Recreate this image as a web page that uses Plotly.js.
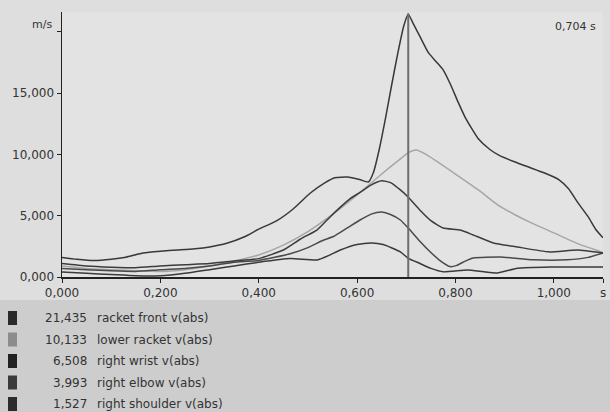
<!DOCTYPE html>
<html>
<head>
<meta charset="utf-8">
<script src="https://cdn.plot.ly/plotly-3.0.1.min.js"></script>
<style>html,body{margin:0;padding:0;background:#dedede;}#chart{width:610px;height:412px;}</style>
</head>
<body>
<div id="chart"></div>
<script>
// ---- data (time in s, velocity in m/s) ----
const seriesNames = ["racket front v(abs)", "lower racket v(abs)", "right wrist v(abs)", "right elbow v(abs)", "right shoulder v(abs)"];
const legendValues = ["21,435", "10,133", "6,508", "3,993", "1,527"];
const cursorTime = 0.704;
const cursorLabel = "0,704 s";

const racketFrontT = [0.000,0.030,0.065,0.100,0.130,0.165,0.200,0.235,0.270,0.300,0.335,0.370,0.400,0.437,0.470,0.505,0.535,0.555,0.580,0.605,0.623,0.633,0.645,0.658,0.670,0.683,0.695,0.704,0.715,0.728,0.745,0.760,0.775,0.790,0.805,0.820,0.846,0.870,0.890,0.920,0.950,0.980,1.010,1.030,1.050,1.070,1.085,1.100];
const racketFrontV = [1600,1450,1350,1450,1620,1950,2100,2200,2300,2450,2750,3260,3900,4600,5550,6850,7700,8100,8150,7950,7750,8500,10400,13000,15600,18300,20500,21435,20600,19600,18300,17600,16900,15700,14300,13000,11300,10400,9900,9400,8950,8500,7950,7200,6000,4900,3900,3200];

const lowerRacketT = [0.000,0.050,0.100,0.150,0.200,0.250,0.300,0.350,0.400,0.450,0.500,0.550,0.600,0.650,0.690,0.704,0.720,0.740,0.800,0.850,0.885,0.920,0.950,1.000,1.050,1.100];
const lowerRacketV = [900,700,600,500,450,600,900,1300,1800,2600,3700,5100,6700,8400,9700,10133,10350,10000,8400,7000,5900,5100,4500,3600,2700,2000];

const rightWristT = [0.000,0.050,0.100,0.150,0.200,0.250,0.300,0.350,0.400,0.450,0.485,0.519,0.545,0.566,0.586,0.606,0.628,0.650,0.668,0.688,0.704,0.728,0.750,0.775,0.810,0.836,0.877,0.926,0.990,1.048,1.100];
const rightWristV = [1100,900,800,750,900,1000,1100,1300,1500,2200,3100,3850,4900,5700,6400,6900,7500,7850,7700,7100,6508,5450,4600,4000,3830,3430,2780,2450,2050,2200,1960];

const rightElbowT = [0.000,0.050,0.100,0.150,0.200,0.250,0.300,0.350,0.400,0.464,0.500,0.531,0.552,0.580,0.606,0.630,0.650,0.668,0.688,0.704,0.728,0.750,0.770,0.789,0.803,0.820,0.836,0.891,0.958,1.027,1.070,1.100];
const rightElbowV = [700,600,500,450,600,700,900,1200,1350,1900,2400,3000,3300,4000,4650,5150,5300,5100,4650,3993,2900,2000,1300,850,950,1300,1550,1630,1400,1400,1600,1960];

const rightShoulderT = [0.000,0.050,0.100,0.150,0.200,0.250,0.300,0.350,0.400,0.464,0.519,0.545,0.566,0.600,0.630,0.653,0.688,0.704,0.728,0.750,0.775,0.824,0.855,0.885,0.926,0.993,1.050,1.100];
const rightShoulderV = [400,300,200,100,100,300,600,900,1200,1500,1390,1800,2200,2650,2780,2650,2050,1527,1100,700,420,570,450,330,720,820,820,820];

const yTickVals = [0, 5000, 10000, 15000, 20000];
const yTickText = ["0,000", "5,000", "10,000", "15,000", ""];
const xTickVals = [0, 0.2, 0.4, 0.6, 0.8, 1.0, 1.1];
const xTickText = ["0,000", "0,200", "0,400", "0,600", "0,800", "1,000", "s"];
const yUnit = "m/s";

// ---- styles ----
const lineColors = ["#383838", "#a6a6a6", "#3c3c3c", "#4a4a4a", "#3a3a3a"];
const swatchColors = ["#2a2a2a", "#8c8c8c", "#222222", "#3a3a3a", "#2c2c2c"];
const FONT = "DejaVu Sans, sans-serif";

const W = 610, H = 412;
const M = {l: 62, r: 7, t: 12, b: 135};
const PW = W - M.l - M.r, PH = H - M.t - M.b;
const px2x = px => (px - M.l) / PW;
const py2y = py => (H - M.b - py) / PH;

const seriesT = [racketFrontT, lowerRacketT, rightWristT, rightElbowT, rightShoulderT];
const seriesV = [racketFrontV, lowerRacketV, rightWristV, rightElbowV, rightShoulderV];
const drawOrder = [1, 4, 3, 2, 0];

const traces = drawOrder.map(i => ({
  type: "scatter", mode: "lines", name: seriesNames[i],
  x: seriesT[i], y: seriesV[i],
  line: {color: lineColors[i], width: 1.5, shape: "spline", smoothing: 0.5},
  hoverinfo: "skip"
}));

const shapes = [
  {type: "rect", xref: "paper", yref: "paper", x0: px2x(0), x1: px2x(W), y0: py2y(300), y1: py2y(H),
   fillcolor: "#cdcdcd", line: {width: 0}, layer: "below"},
  {type: "line", xref: "x", yref: "paper", x0: cursorTime, x1: cursorTime, y0: 0, y1: 0.995,
   line: {color: "#6e6e6e", width: 2}}
];
const annotations = [
  {xref: "paper", yref: "paper", x: px2x(54), y: py2y(25), xanchor: "right", yanchor: "middle",
   text: yUnit, showarrow: false, font: {family: FONT, size: 11, color: "#333"}},
  {xref: "paper", yref: "paper", x: px2x(598), y: py2y(27), xanchor: "right", yanchor: "middle",
   text: cursorLabel, showarrow: false, font: {family: FONT, size: 11, color: "#333"}}
];
const rowY = [318, 339.5, 361, 382.5, 404];
seriesNames.forEach((n, i) => {
  shapes.push({type: "rect", xref: "paper", yref: "paper",
    x0: px2x(8), x1: px2x(17), y0: py2y(rowY[i] - 7), y1: py2y(rowY[i] + 7),
    fillcolor: swatchColors[i], line: {width: 0}});
  annotations.push({xref: "paper", yref: "paper", x: px2x(89), y: py2y(rowY[i]), xanchor: "right", yanchor: "middle",
    text: legendValues[i], showarrow: false, font: {family: FONT, size: 12, color: "#333"}});
  annotations.push({xref: "paper", yref: "paper", x: px2x(95), y: py2y(rowY[i]), xanchor: "left", yanchor: "middle",
    text: n, showarrow: false, font: {family: FONT, size: 12, color: "#333"}});
});

const layout = {
  width: W, height: H, margin: M,
  paper_bgcolor: "#dedede", plot_bgcolor: "#e3e3e3",
  showlegend: false,
  font: {family: FONT, size: 12, color: "#333"},
  xaxis: {range: [0, 1.1], tickvals: xTickVals, ticktext: xTickText, ticks: "outside", ticklen: 4,
          tickcolor: "#222", showline: true, linecolor: "#222", linewidth: 1.5, showgrid: false, zeroline: false,
          tickfont: {family: FONT, size: 12, color: "#333"}, fixedrange: true},
  yaxis: {range: [0, 21615], tickvals: yTickVals, ticktext: yTickText, ticks: "outside", ticklen: 4,
          tickcolor: "#222", showline: true, linecolor: "#222", linewidth: 1.5, showgrid: false, zeroline: false,
          tickfont: {family: FONT, size: 12, color: "#333"}, fixedrange: true},
  shapes: shapes, annotations: annotations
};
Plotly.newPlot("chart", traces, layout, {staticPlot: true, displayModeBar: false});
</script>
</body>
</html>
